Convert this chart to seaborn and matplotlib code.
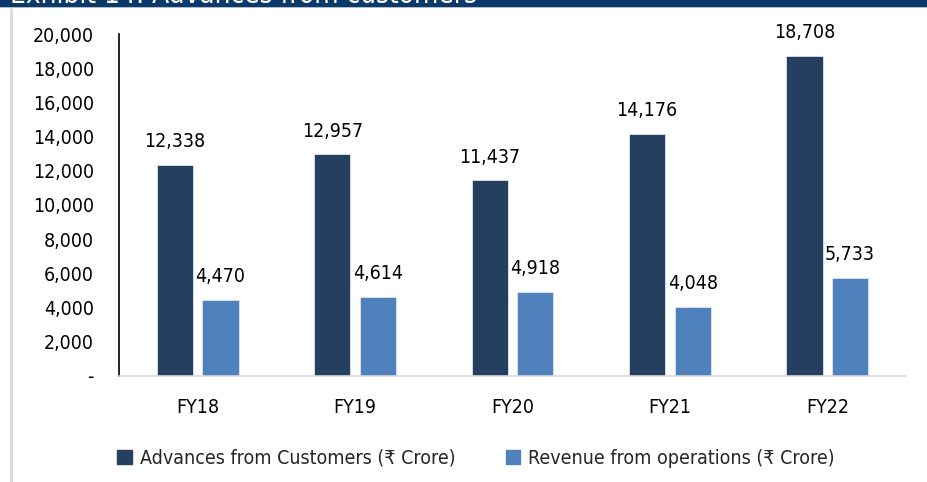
import pandas as pd
import matplotlib
matplotlib.use("Agg")
import matplotlib.pyplot as plt
from matplotlib.patches import Rectangle
from matplotlib.lines import Line2D
from matplotlib import font_manager
import seaborn as sns

years = ["FY18", "FY19", "FY20", "FY21", "FY22"]
advances = [12338, 12957, 11437, 14176, 18708]
revenue = [4470, 4614, 4918, 4048, 5733]
series_names = ["Advances from Customers (\u20b9 Crore)", "Revenue from operations (\u20b9 Crore)"]
yticks = [0, 2000, 4000, 6000, 8000, 10000, 12000, 14000, 16000, 18000, 20000]

df = pd.DataFrame({
    "year": years * 2,
    "value": advances + revenue,
    "series": [series_names[0]] * len(years) + [series_names[1]] * len(years),
})

# narrow font if we have one, otherwise condensed DejaVu
names = {f.name for f in font_manager.fontManager.ttflist}

sns.set_style("white")
if "Liberation Sans Narrow" in names:
    plt.rcParams["font.family"] = ["Liberation Sans Narrow", "DejaVu Sans"]
else:
    plt.rcParams["font.family"] = ["DejaVu Sans"]
    plt.rcParams["font.stretch"] = "condensed"

fig = plt.figure(figsize=(9.28, 4.82), dpi=100)
ax = fig.add_axes([119 / 928, 1 - 376 / 482, (906 - 119) / 928, (376 - 34) / 482])

sns.barplot(data=df, x="year", y="value", hue="series", ax=ax,
            palette=["#253f60", "#4f81bd"], width=0.58, gap=0.21,
            edgecolor="#dce6f2", linewidth=0.6, saturation=1)

for c in ax.containers:
    ax.bar_label(c, labels=[f"{v:,.0f}" for v in c.datavalues],
                 padding=10, fontsize=14, color="black")

ax.set_ylim(0, 20000)
ax.set_yticks(yticks)
ax.set_yticklabels(["-"] + [f"{t:,}" for t in yticks[1:]])
ax.set_xlabel("")
ax.set_ylabel("")
ax.tick_params(axis="both", length=0, labelsize=14, colors="black")
ax.tick_params(axis="y", pad=18)
ax.tick_params(axis="x", pad=16)

for s in ["top", "right"]:
    ax.spines[s].set_visible(False)
ax.spines["left"].set_color("black")
ax.spines["left"].set_linewidth(1.2)
ax.spines["bottom"].set_color("#d9d9d9")
ax.spines["bottom"].set_linewidth(1.2)

ax.legend_.remove()
handles = [Rectangle((0, 0), 1, 1, color="#253f60"), Rectangle((0, 0), 1, 1, color="#4f81bd")]
fig.legend(handles, series_names, loc="center", bbox_to_anchor=(0.513, 1 - 458 / 482),
           ncol=2, frameon=False, fontsize=14, handlelength=0.75, handleheight=0.75,
           handletextpad=0.4, columnspacing=2.6)

# top banner, cut off like the source screenshot
fig.patches.append(Rectangle((0, 1 - 6 / 482), 1, 6 / 482, transform=fig.transFigure,
                             color="#0b3a6a", zorder=5))
fig.add_artist(Line2D([0, 1], [1 - 7 / 482] * 2, color="#d0d8e0", lw=1.2))
fig.text(10 / 928, 1 - 3 / 482, "Exhibit 14: Advances from customers", color="white",
         fontsize=20, va="baseline", ha="left", zorder=6)
fig.add_artist(Line2D([11 / 928] * 2, [0, 1 - 9 / 482], color="#d9d9d9", lw=2))

fig.savefig("out.png", dpi=100)
